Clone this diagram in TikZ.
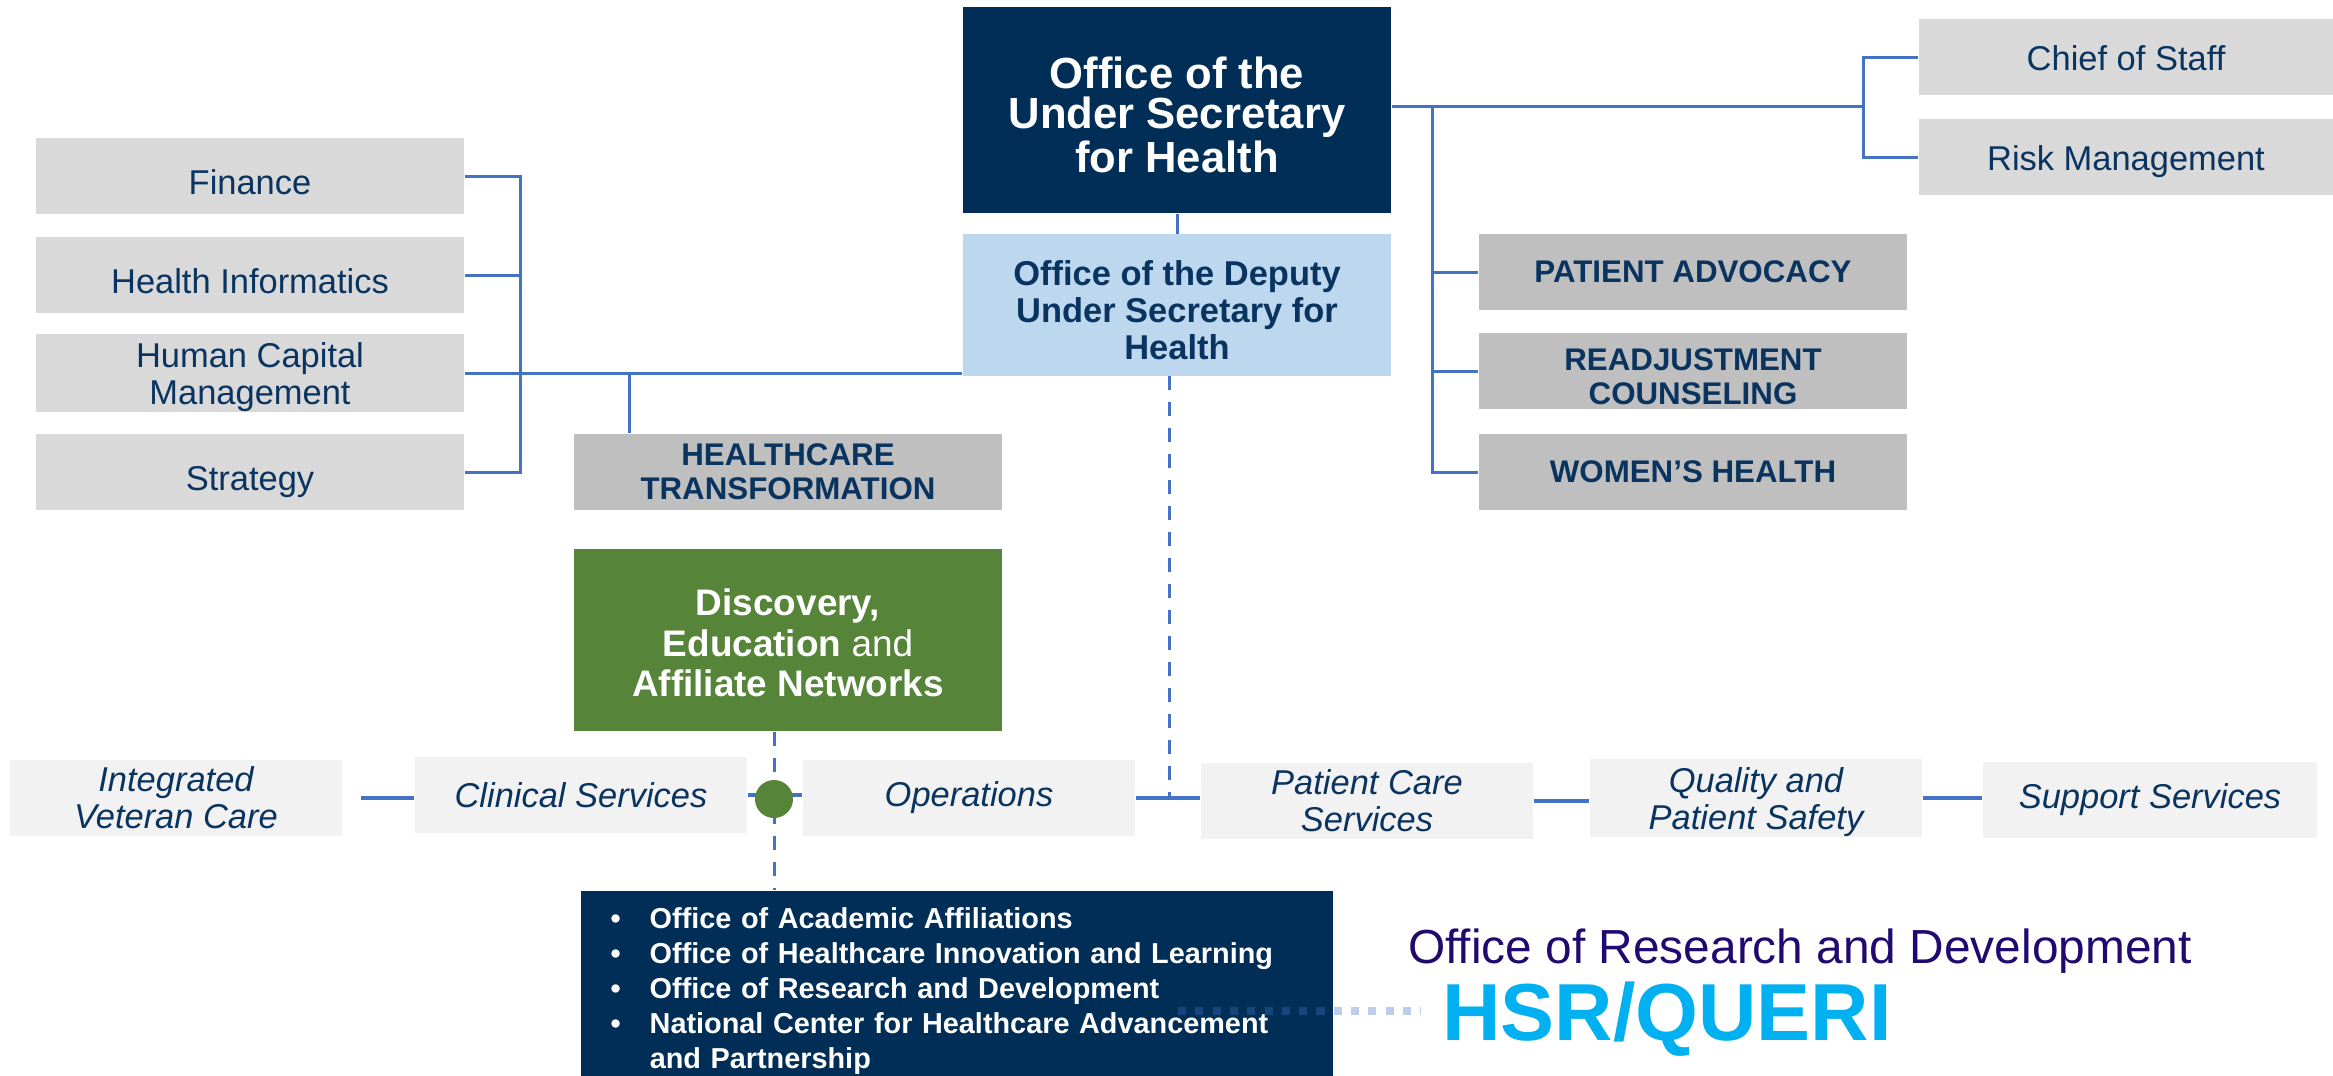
\documentclass[tikz,border=0pt]{standalone}
\usepackage{fontspec}
\setmainfont{Liberation Sans}
\usetikzlibrary{positioning}

\definecolor{navybox}{RGB}{0,46,86}
\definecolor{navytext}{RGB}{10,52,96}
\definecolor{deputyblue}{RGB}{189,215,238}
\definecolor{staffgray}{RGB}{217,217,217}
\definecolor{officegray}{RGB}{191,191,191}
\definecolor{rowgray}{RGB}{242,242,242}
\definecolor{greenbox}{RGB}{86,132,56}
\definecolor{linkblue}{RGB}{68,114,196}
\definecolor{rdpurple}{RGB}{32,10,112}
\definecolor{queriblue}{RGB}{0,176,240}

% extra height on a first line, to set the text a little lower
\newcommand{\lowfirst}[1]{\rule{0pt}{#1}}

\tikzset{
  unit/.style={rectangle, inner sep=0pt, align=center, minimum width=4.28cm, minimum height=0.76cm},
  staff/.style={unit, fill=staffgray, text=navytext, font=\fontsize{9.8}{10.6}\selectfont},
  office/.style={unit, fill=officegray, text=navytext, font=\bfseries\fontsize{8.9}{9.7}\selectfont},
  rowbox/.style={unit, minimum width=3.32cm, fill=rowgray, text=navytext, font=\itshape\fontsize{9.8}{10.5}\selectfont},
  link/.style={draw=linkblue, line width=0.03cm},
  rowlink/.style={draw=linkblue, line width=0.04cm},
  dashlink/.style={draw=linkblue, line width=0.03cm, dash pattern=on 0.14cm off 0.12cm},
}

\begin{document}
\begin{tikzpicture}[x=0.01cm, y=-0.01cm]
  \useasboundingbox (0,0) rectangle (2333,1075);

  % under secretary and deputy
  \node[unit, minimum height=2.06cm, fill=navybox, text=white, font=\bfseries\fontsize{12.4}{11.4}\selectfont] (oush) at (1177,110) {\lowfirst{11.7pt}Office of the\\Under Secretary\\for Health};
  \node[unit, minimum height=1.41cm, fill=deputyblue, text=navytext, font=\bfseries\fontsize{9.8}{10.5}\selectfont] (dush) at (1177,305) {\lowfirst{9.8pt}Office of the Deputy\\Under Secretary for\\Health};

  % staff offices
  \node[staff, minimum width=4.14cm, text height=7.5pt, text depth=0pt] (cos) at (2126,57) {Chief of Staff};
  \node[staff, minimum width=4.14cm, text height=7.5pt, text depth=0pt] (risk) at (2126,157) {Risk Management};
  \node[office] (padv) at (1693,272) {PATIENT ADVOCACY};
  \node[office] (readj) at (1693,371) {\lowfirst{9.6pt}READJUSTMENT\\COUNSELING};
  \node[office] (women) at (1693,472) {WOMEN’S HEALTH};

  \node[staff, text height=10.5pt, text depth=0pt] (fin) at (250,176) {Finance};
  \node[staff, text height=10.5pt, text depth=0pt] (hinf) at (250,275) {Health Informatics};
  \node[staff] (hcm) at (250,373) {\lowfirst{9.3pt}Human Capital\\Management};
  \node[staff, text height=10.5pt, text depth=0pt] (strat) at (250,472) {Strategy};
  \node[office] (htrans) at (788,472) {HEALTHCARE\\TRANSFORMATION};

  \node[unit, minimum height=1.82cm, fill=greenbox, text=white, font=\fontsize{10.5}{11.4}\selectfont] (dean) at (788,640) {\lowfirst{9.2pt}\textbf{Discovery,}\\\textbf{Education} and\\\textbf{Affiliate Networks}};

  % lower row
  \node[rowbox] (ivc) at (176,798) {Integrated\\Veteran Care};
  \node[rowbox] (clin) at (581,795) {Clinical Services};
  \node[rowbox] (ops) at (969,798) {Operations};
  \node[rowbox] (pcs) at (1367,801) {Patient Care\\Services};
  \node[rowbox] (qps) at (1756,798) {\lowfirst{9.5pt}Quality and\\Patient Safety};
  \node[rowbox, minimum width=3.34cm] (sup) at (2150,800) {Support Services};

  \node[anchor=north west, minimum width=7.52cm, minimum height=2cm, text width=6.92cm, inner xsep=0.3cm, inner ysep=0pt, align=left, fill=navybox, text=white, font=\bfseries\fontsize{8.2}{9.96}\selectfont] (offices) at (580,890)
    {\makebox[0.39cm][l]{\textbullet}Office of Academic Affiliations\\
     \makebox[0.39cm][l]{\textbullet}Office of Healthcare Innovation and Learning\\
     \makebox[0.39cm][l]{\textbullet}Office of Research and Development\\
     \makebox[0.39cm][l]{\textbullet}National Center for Healthcare Advancement\\
     \hspace*{0.39cm}and Partnership};

  \node[anchor=base, inner sep=0pt, text=rdpurple, font=\fontsize{13.6}{16}\selectfont] (ord) at (1800,963) {Office of Research and Development};
  \node[anchor=base, inner sep=0pt, text=queriblue, font=\bfseries\fontsize{23}{26}\selectfont] (hsr) at (1667,1040) {HSR/QUERI};

  % connectors
  \coordinate (cosbus) at (1863,106);
  \draw[link] (oush.east |- cosbus) -- (cosbus);
  \draw[link] (cos.west) -| (cosbus) |- (risk.west);
  \coordinate (rbus) at (1432,106);
  \foreach \n in {padv,readj,women}
    \draw[link] (rbus) |- (\n.west);
  \draw[link] (oush) -- (dush);

  \coordinate (lbus) at (520,373);
  \foreach \n in {fin,hinf,hcm,strat}
    \draw[link] (\n.east) -| (lbus);
  \draw[link] (hcm.east) -- (hcm.east -| dush.west);
  \draw[link] ([xshift=0.56cm]htrans.north west) |- (hcm.east);

  \coordinate (hub) at (774,799);
  \draw[dashlink] ([xshift=-0.08cm]dush.south) -- ([xshift=-0.08cm]dush.south |- ops.east);
  \draw[rowlink] (ops.east) -- (ops.east -| pcs.west);
  \draw[rowlink, shorten <=0.18cm] (ivc.east) -- (ivc.east -| clin.west);
  \draw[rowlink] (clin.east) -- (clin.east -| ops.west);
  \draw[rowlink] (pcs.east) -- (pcs.east -| qps.west);
  \draw[rowlink] (qps.east) -- (qps.east -| sup.west);
  \draw[dashlink] (hub |- dean.south) -- (hub) -- (hub |- offices.north);
  \node[circle, fill=greenbox, minimum size=0.38cm, inner sep=0pt] (dot) at (hub) {};

  \draw[linkblue, opacity=0.35, line width=0.08cm, dash pattern=on 0.08cm off 0.093cm] (1178,1011) -- ([xshift=-0.21cm]hsr.west |- 0,1011);
\end{tikzpicture}
\end{document}
